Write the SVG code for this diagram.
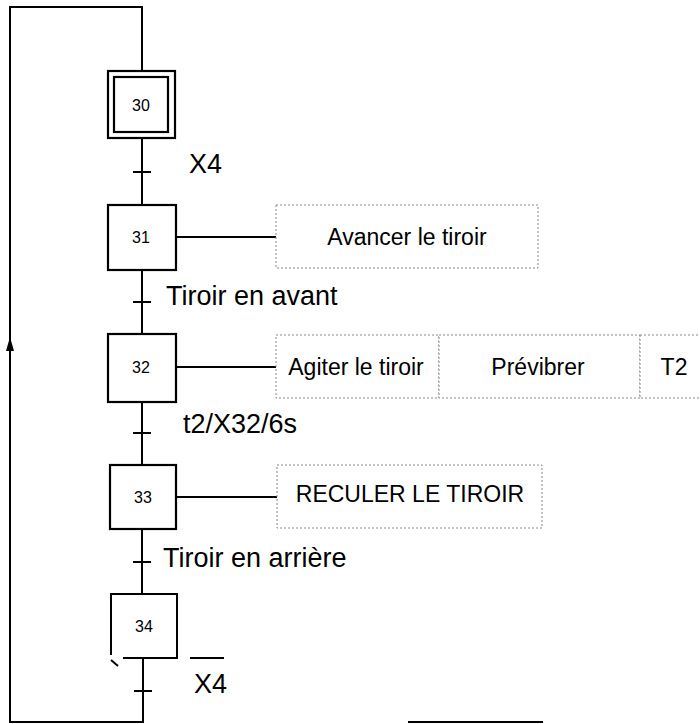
<svg xmlns="http://www.w3.org/2000/svg" width="700" height="724" viewBox="0 0 700 724">
<defs>
<style>
.ln{stroke:#000;stroke-width:2;fill:none}
.step{fill:#fff;stroke:#000;stroke-width:2.2}
.act{fill:#fff;stroke:#888;stroke-width:1;stroke-dasharray:2 2}
.num{font-family:"Liberation Sans",Arial,sans-serif;font-size:16px;fill:#000;text-anchor:middle}
.lbl{font-family:"Liberation Sans",Arial,sans-serif;font-size:27px;fill:#000}
.atx{font-family:"Liberation Sans",Arial,sans-serif;font-size:23px;fill:#000;text-anchor:middle}
</style>
</defs>
<rect width="700" height="724" fill="#fff"/>
<g id="connectors">
<polyline class="ln" points="142,71 142,7 10,7 10,722 143,722 143,658"/>
<polygon points="10,337 6,351 14,351" fill="#000"/>
<line class="ln" x1="142" y1="138" x2="142" y2="205"/>
<line class="ln" x1="142" y1="270" x2="142" y2="333"/>
<line class="ln" x1="142" y1="402" x2="142" y2="465"/>
<line class="ln" x1="142" y1="529" x2="142" y2="594"/>
<line class="ln" x1="176" y1="237" x2="276" y2="237"/>
<line class="ln" x1="176" y1="367" x2="276" y2="367"/>
<line class="ln" x1="176" y1="497" x2="277" y2="497"/>
<line class="ln" x1="408" y1="722" x2="543" y2="722" stroke-width="3"/>
</g>
<g id="t30-31"><line class="ln" x1="133" y1="172" x2="151" y2="172"/><text class="lbl" x="189" y="173">X4</text></g>
<g id="t31-32"><line class="ln" x1="133" y1="302" x2="151" y2="302"/><text class="lbl" x="166" y="305">Tiroir en avant</text></g>
<g id="t32-33"><line class="ln" x1="133" y1="433" x2="151" y2="433"/><text class="lbl" x="183" y="433">t2/X32/6s</text></g>
<g id="t33-34"><line class="ln" x1="133" y1="562" x2="151" y2="562"/><text class="lbl" x="163" y="567">Tiroir en arrière</text></g>
<g id="t34-30"><line class="ln" x1="134" y1="691" x2="152" y2="691"/><line class="ln" x1="190" y1="658" x2="224" y2="658"/><text class="lbl" x="194" y="693">X4</text></g>
<g id="step30">
<rect class="step" x="108" y="71" width="67" height="67"/>
<rect class="step" x="114" y="77" width="54" height="55"/>
<text class="num" x="141" y="111">30</text>
</g>
<g id="step31">
<rect class="step" x="108" y="205" width="68" height="65"/>
<text class="num" x="141" y="243">31</text>
</g>
<g id="step32">
<rect class="step" x="108" y="334" width="68" height="68"/>
<text class="num" x="141" y="373">32</text>
</g>
<g id="step33">
<rect class="step" x="110" y="465" width="66" height="64"/>
<text class="num" x="143" y="503">33</text>
</g>
<g id="step34">
<polyline class="ln" points="111,655 111,594 177,594 177,658 123,658"/>
<line class="ln" x1="111" y1="660" x2="118" y2="666" stroke-width="1.5"/>
<text class="num" x="144" y="632">34</text>
</g>
<g id="action31">
<rect class="act" x="276" y="205" width="262" height="63"/>
<text class="atx" x="407" y="245">Avancer le tiroir</text>
</g>
<g id="action32">
<rect class="act" x="276" y="335" width="163" height="63"/>
<text class="atx" x="356" y="375">Agiter le tiroir</text>
<rect class="act" x="439" y="335" width="201" height="63"/>
<text class="atx" x="538" y="375">Prévibrer</text>
<rect class="act" x="640" y="335" width="70" height="63"/>
<text class="atx" x="674" y="375">T2</text>
</g>
<g id="action33">
<rect class="act" x="277" y="465" width="265" height="63"/>
<text class="atx" x="410" y="502" font-size="21px">RECULER LE TIROIR</text>
</g>
</svg>
